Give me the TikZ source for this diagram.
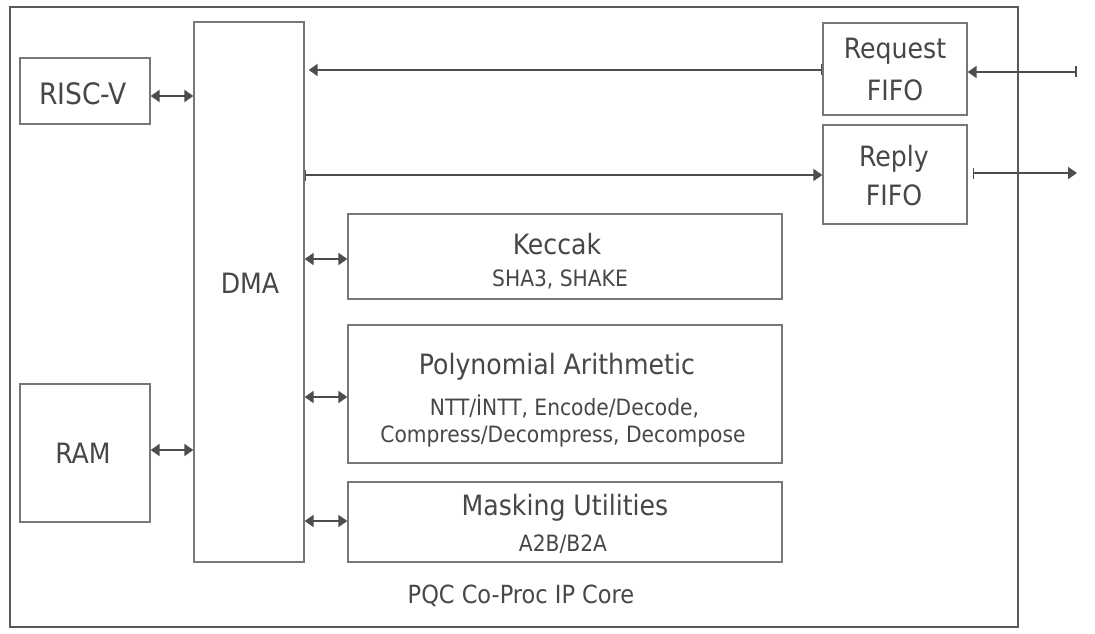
\documentclass[tikz,border=0pt]{standalone}
\usepackage{fontspec}
\setmainfont{DejaVu Sans Condensed}
\usetikzlibrary{arrows.meta}
\definecolor{boxgray}{HTML}{777777}
\definecolor{arrgray}{HTML}{4D4D4D}
\definecolor{txtgray}{HTML}{474747}
\definecolor{outgray}{HTML}{5A5A5A}
\tikzset{
  blk/.style={draw=boxgray, line width=1.3pt, inner sep=0pt, fill=white},
  ttl/.style={text=txtgray, font=\fontsize{28}{32}\selectfont, anchor=base, inner sep=0pt},
  sub/.style={text=txtgray, font=\fontsize{22.5}{26}\selectfont, anchor=base, inner sep=0pt},
  conn/.style={draw=arrgray, line width=1.9pt},
  tip/.tip={Triangle[length=9pt,width=12pt]},
  barr/.tip={Bar[width=11pt,line width=1.6pt]},
}
\begin{document}
\begin{tikzpicture}[x=1pt,y=-1pt]
\useasboundingbox (0,0) rectangle (1095,634);
% outer box
\draw[draw=outgray, line width=1.8pt] (10,7) rectangle (1018,627);
% blocks
\node[blk, minimum width=130pt, minimum height=66pt] (riscv) at (85,91) {};
\node[blk, minimum width=110pt, minimum height=540pt] (dma) at (249,292) {};
\node[blk, minimum width=130pt, minimum height=138pt] (ram) at (85,453) {};
\node[blk, minimum width=144pt, minimum height=92pt] (req) at (895,69) {};
\node[blk, minimum width=144pt, minimum height=99pt] (rep) at (895,174.5) {};
\node[blk, minimum width=434pt, minimum height=85pt] (kec) at (565,256.5) {};
\node[blk, minimum width=434pt, minimum height=138pt] (poly) at (565,394) {};
\node[blk, minimum width=434pt, minimum height=80pt] (mask) at (565,522) {};
% texts
\node[ttl, font=\fontsize{29.5}{34}\selectfont] (triscv) at (83,104) {RISC-V};
\node[ttl] (tram) at (83,463) {RAM};
\node[ttl] (tdma) at (250,293) {DMA};
\node[ttl] (treq1) at (895,59) {Request};
\node[ttl] (treq2) at (895,100) {FIFO};
\node[ttl] (trep1) at (894,166) {Reply};
\node[ttl] (trep2) at (894,205) {FIFO};
\node[ttl] (tkec) at (557,254) {Keccak};
\node[sub] (skec) at (560,286) {SHA3, SHAKE};
\node[ttl] (tpoly) at (557,374) {Polynomial Arithmetic};
\node[sub] (spoly1) at (564.5,415) {NTT/İNTT, Encode/Decode,};
\node[sub] (spoly2) at (563,442) {Compress/Decompress, Decompose};
\node[ttl] (tmask) at (565,515) {Masking Utilities};
\node[sub] (smask) at (563,551) {A2B/B2A};
\node[sub, font=\fontsize{25}{28}\selectfont] (tcore) at (521,603) {PQC Co-Proc IP Core};
% external ends
\coordinate (extin) at (1077,72);
\coordinate (extout) at (1077,173);
% connectors
\draw[conn, tip-tip] (riscv.east |- 0,96) -- (dma.west |- 0,96);
\draw[conn, tip-tip] (ram.east |- 0,450) -- (dma.west |- 0,450);
\draw[conn, tip-tip] (dma.east |- 0,259) -- (kec.west |- 0,259);
\draw[conn, tip-tip] (dma.east |- 0,397) -- (poly.west |- 0,397);
\draw[conn, tip-tip] (dma.east |- 0,521) -- (mask.west |- 0,521);
\draw[conn, barr-tip, shorten >=4pt] (req.west |- 0,70) -- (dma.east |- 0,70);
\draw[conn, barr-tip] (dma.east |- 0,175) -- (rep.west |- 0,175);
\draw[conn, barr-tip] (extin) -- (req.east |- extin);
\draw[conn, barr-tip, shorten <=5pt] (rep.east |- extout) -- (extout);
\end{tikzpicture}
\end{document}
